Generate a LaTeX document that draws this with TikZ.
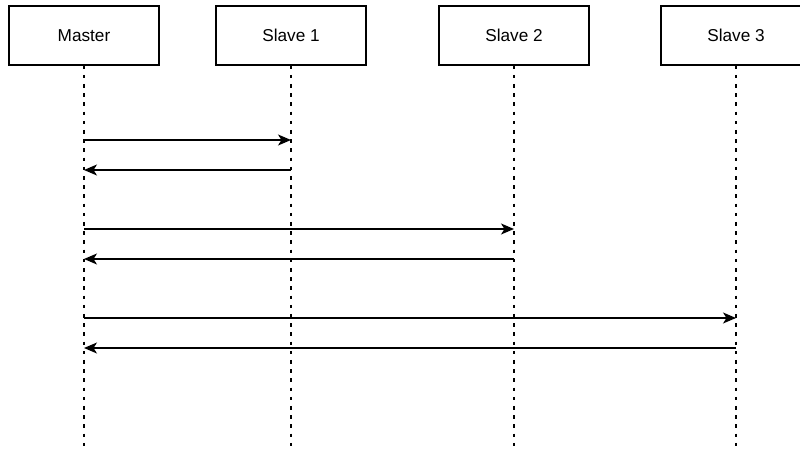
\documentclass[tikz,border=0pt]{standalone}
\usepackage{fontspec}
\setmainfont{Liberation Sans}
\usetikzlibrary{arrows.meta}
\begin{document}
\begin{tikzpicture}[x=1pt,y=-1pt,
  lbox/.style={draw=black,line width=1.1pt,fill=white,minimum width=150pt,minimum height=59pt,inner sep=0pt,font=\fontsize{17.2}{19}\selectfont},
  life/.style={draw=black,line width=1.1pt,dash pattern=on 3.7pt off 5.5pt},
  msg/.style={draw=black,line width=1.2pt,-{Stealth[length=13pt,width=11pt,inset=3.5pt]}}]
\useasboundingbox (0,0) rectangle (800,450);
\clip (0,0) rectangle (800,450);
\fill[white] (0,0) rectangle (800,450);
\node[lbox] (m) at (84,35.5) {Master};
\node[lbox] (s1) at (291,35.5) {Slave 1};
\node[lbox] (s2) at (514,35.5) {Slave 2};
\node[lbox] (s3) at (736,35.5) {Slave 3};
\coordinate (me) at (84,452);
\coordinate (s1e) at (291,452);
\coordinate (s2e) at (514,452);
\coordinate (s3e) at (736,452);
\draw[life] (m.south) -- (me);
\draw[life] (s1.south) -- (s1e);
\draw[life] (s2.south) -- (s2e);
\draw[life] (s3.south) -- (s3e);
\coordinate (m1) at (84,140); \coordinate (a1) at (291,140);
\coordinate (m2) at (84,170); \coordinate (a2) at (291,170);
\coordinate (m3) at (84,229); \coordinate (a3) at (514,229);
\coordinate (m4) at (84,259); \coordinate (a4) at (514,259);
\coordinate (m5) at (84,318); \coordinate (a5) at (736,318);
\coordinate (m6) at (84,348); \coordinate (a6) at (736,348);
\draw[msg] (m1) -- (a1);
\draw[msg] (a2) -- (m2);
\draw[msg] (m3) -- (a3);
\draw[msg] (a4) -- (m4);
\draw[msg] (m5) -- (a5);
\draw[msg] (a6) -- (m6);
\end{tikzpicture}
\end{document}
